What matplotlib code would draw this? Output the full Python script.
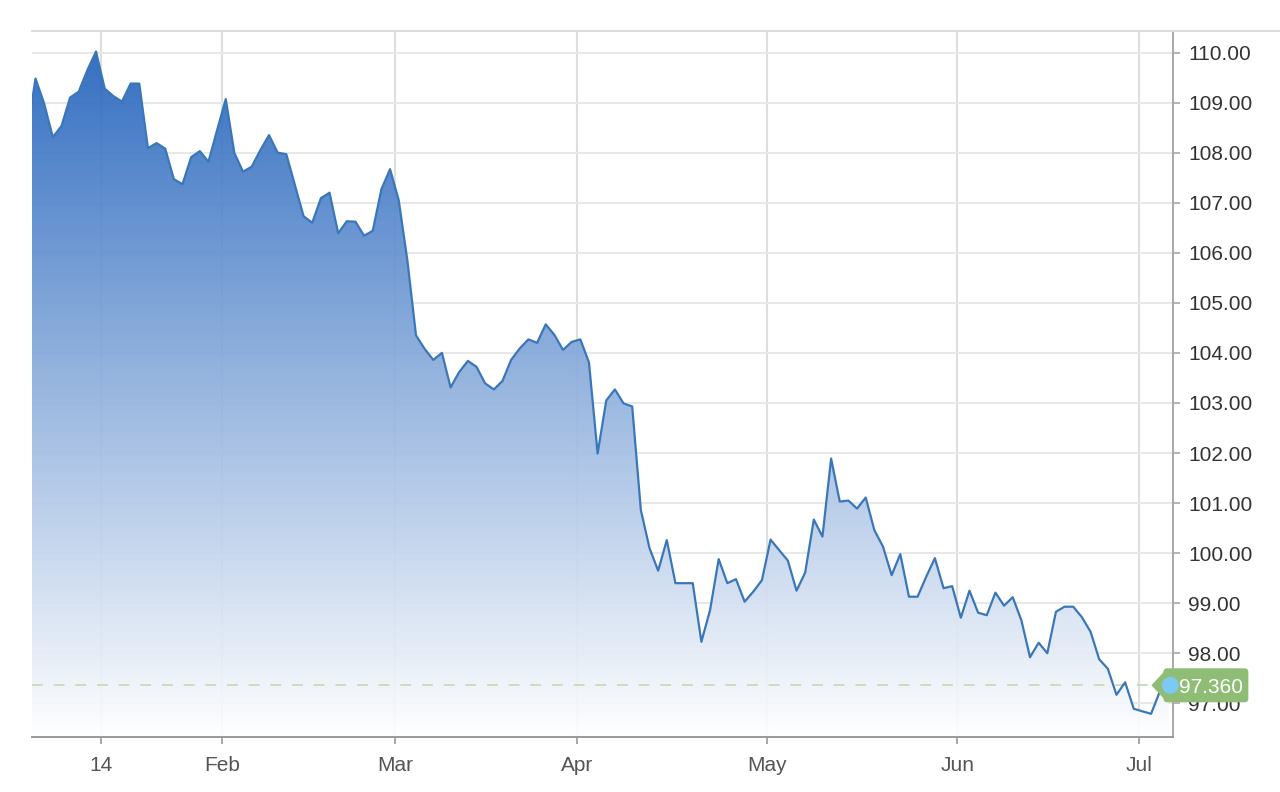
import numpy as np
import pandas as pd
import matplotlib
matplotlib.use("Agg")
import matplotlib.pyplot as plt
from matplotlib.patches import Polygon, FancyBboxPatch, Circle
from matplotlib.transforms import IdentityTransform
from matplotlib.lines import Line2D

plt.rcParams['font.family'] = ['Liberation Sans', 'DejaVu Sans']

# ---- data (US Dollar Index, daily closes, weekdays) ----
prev_close = [108.35]  # 2024-12-31
jan = [109.48, 108.98, 108.31, 108.53, 109.10, 109.22, 109.65, 110.02, 109.28, 109.13,
       109.02, 109.38, 109.38, 108.09, 108.19, 108.08, 107.47, 107.37, 107.91, 108.03,
       107.82, 108.45]
feb = [109.07, 107.99, 107.62, 107.72, 108.05, 108.35, 108.00, 107.97, 107.35, 106.73,
       106.60, 107.09, 107.20, 106.39, 106.63, 106.62, 106.34, 106.44, 107.27, 107.67]
mar = [107.05, 105.85, 104.35, 104.08, 103.86, 104.00, 103.31, 103.62, 103.84, 103.72,
       103.39, 103.27, 103.44, 103.86, 104.09, 104.27, 104.20, 104.57, 104.36, 104.06,
       104.22]
apr = [104.27, 103.81, 101.99, 103.05, 103.27, 102.99, 102.93, 100.86, 100.10, 99.65,
       100.26, 99.40, 99.40, 99.40, 98.23, 98.86, 99.88, 99.40, 99.48, 99.03,
       99.23, 99.46]
may = [100.27, 100.06, 99.85, 99.25, 99.61, 100.67, 100.33, 101.89, 101.03, 101.05,
       100.89, 101.11, 100.46, 100.13, 99.56, 99.98, 99.13, 99.13, 99.53, 99.90,
       99.30, 99.34]
jun = [98.71, 99.25, 98.81, 98.76, 99.21, 98.95, 99.12, 98.66, 97.92, 98.21,
       98.00, 98.83, 98.93, 98.93, 98.72, 98.43, 97.88, 97.69, 97.17, 97.42,
       96.89]
jul = [96.84, 96.79, 97.23, 97.36]

tick_dates = ["2025-01-14", "2025-02-03", "2025-03-03", "2025-04-01",
              "2025-05-01", "2025-06-02", "2025-07-01"]
tick_labels = ["14", "Feb", "Mar", "Apr", "May", "Jun", "Jul"]
y_ticks = list(range(97, 111))

values = np.array(prev_close + jan + feb + mar + apr + may + jun + jul)
dates = [pd.Timestamp("2024-12-31")] + list(pd.bdate_range("2025-01-02", "2025-07-04"))
x = np.arange(len(values)) - 1          # ordinal trading-day axis, Jan 2 = 0
last = values[-1]

# ---- figure ----
W, H = 1280, 792
fig = plt.figure(figsize=(W / 100, H / 100), dpi=100)
ax = fig.add_axes([32 / W, 55 / H, (1172.7 - 32) / W, (737 - 31) / H])
xlim = (-0.405, 131.5)
ylim = (96.327, 110.43)

# gradient fill (slightly translucent so grid shows faintly through)
poly = ax.fill_between(x, values, ylim[0], color="none", lw=0)
fill_alpha = 0.92
top_rgb = np.array([53, 112, 194]) / 255
top_c = (top_rgb - (1 - fill_alpha)) / fill_alpha
t = np.linspace(0.0, 1.0, 256)[:, None]
grad = np.zeros((256, 1, 4))
grad[:, 0, :3] = top_c * (1 - t) + 1.0 * t
grad[:, 0, 3] = fill_alpha
im = ax.imshow(grad, extent=[xlim[0], xlim[1], ylim[0], values.max()],
               aspect="auto", origin="upper", zorder=1, interpolation="bilinear")
im.set_clip_path(poly.get_paths()[0], transform=ax.transData)

# line
ax.plot(x, values, color="#3a77b9", lw=1.6, zorder=3, solid_joinstyle="round")

# dashed last-price line
ax.axhline(last, color="#c4dcb6", lw=1.3, dashes=(6, 6), zorder=2)

ax.set_xlim(*xlim)
ax.set_ylim(*ylim)

# ticks / grid
tick_pos = [dates.index(pd.Timestamp(d)) - 1 - 0.4 for d in tick_dates]
ax.set_xticks(tick_pos)
ax.set_xticklabels(tick_labels)
ax.set_yticks(y_ticks)
ax.set_yticklabels([f"{v:.2f}" for v in y_ticks])
ax.yaxis.tick_right()
ax.set_axisbelow(True)
ax.grid(axis="y", color="#e8e8e8", lw=1.5)
ax.grid(axis="x", color="#dedede", lw=1.5)

for s in ["left", "top"]:
    ax.spines[s].set_visible(False)
ax.spines["right"].set_color("#a8a8a8")
ax.spines["right"].set_linewidth(1.4)
ax.spines["bottom"].set_color("#9a9a9a")
ax.spines["bottom"].set_linewidth(1.4)

ax.tick_params(axis="y", length=5, width=1.2, color="#a8a8a8", pad=6,
               labelsize=15, labelcolor="#333333")
ax.tick_params(axis="x", length=5, width=1.2, color="#9a9a9a", pad=9,
               labelsize=15, labelcolor="#555555")

# top border line spanning to the right edge
fig.add_artist(Line2D([32 / W, 1.0], [(H - 31) / H, (H - 31) / H],
                      transform=fig.transFigure, color="#dcdcdc", lw=1.5))

# last-price label and marker
xd, yd = ax.transData.transform((x[-1], last))
green = "#8fbd76"
fig.add_artist(FancyBboxPatch((xd - 5, yd - 17), 85, 34,
                              boxstyle="round,pad=0,rounding_size=4",
                              transform=IdentityTransform(), facecolor=green,
                              edgecolor="none", zorder=5))
fig.add_artist(Polygon([(xd - 17, yd), (xd - 3, yd + 15), (xd - 3, yd - 15)],
                       closed=True, transform=IdentityTransform(),
                       facecolor=green, edgecolor="none", zorder=5))
fig.text(xd + 43, yd - 7.5, f"{last:.3f}", transform=IdentityTransform(),
         color="white", fontsize=15, ha="center", va="baseline", zorder=6)
fig.add_artist(Circle((xd + 2, yd), 8.5, transform=IdentityTransform(),
                      facecolor="#7cc9f2", edgecolor="none", zorder=7))

fig.savefig("out.png", dpi=100)
